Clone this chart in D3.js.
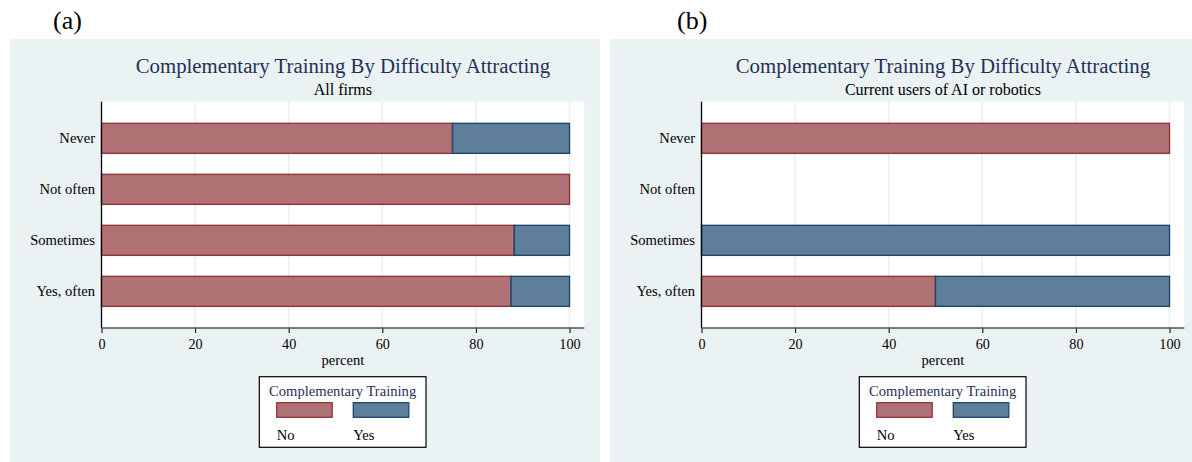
<!DOCTYPE html>
<html>
<head>
<meta charset="utf-8">
<script src="https://cdn.jsdelivr.net/npm/d3@7"></script>
<style>
  html, body { margin: 0; padding: 0; background: #ffffff; }
  svg { display: block; }
  text { font-family: "Liberation Serif", "Times New Roman", serif; }
</style>
</head>
<body>
<svg id="chart" width="1192" height="462"></svg>
<script>
// ---- data ----
const categories = ["Never", "Not often", "Sometimes", "Yes, often"];
const seriesNames = ["No", "Yes"];
const panelLabels = ["(a)", "(b)"];
const chartTitle = "Complementary Training By Difficulty Attracting";
const subtitles = ["All firms", "Current users of AI or robotics"];
const legendTitle = "Complementary Training";
const xAxisTitle = "percent";
const xTicks = [0, 20, 40, 60, 80, 100];
// panel (a): all firms
const noA  = [75, 100, 88.2, 87.5];
const yesA = [25, 0, 11.8, 12.5];
// panel (b): current users of AI or robotics
const noB  = [100, 0, 0, 50];
const yesB = [0, 0, 100, 50];

// ---- styles ----
const bgColor = "#eaf2f3";
const gridColor = "#e6eff1";
const titleColor = "#1f3057";
const fills = ["#b17276", "#5f7e9a"];
const strokes = ["#90353b", "#1a476f"];

const svg = d3.select("#chart");

function drawPanel(left, label, subtitle, noVals, yesVals) {
  const g = svg.append("g").attr("transform", `translate(${left},0)`);
  const panelTop = 39;
  g.append("rect").attr("x", 0).attr("y", panelTop).attr("width", 590).attr("height", 462 - panelTop)
    .attr("fill", bgColor);

  const plotL = 91.5, plotR = 574.3, plotT = 101.7, plotB = 328;
  const x = d3.scaleLinear().domain([0, 100]).range([plotL, 559.5]);
  const y = d3.scaleBand().domain(categories).range([plotT, plotB])
    .paddingInner(0.412).paddingOuter(0.4245);

  // panel label
  g.append("text").attr("x", label === "(a)" ? 43 : 67).attr("y", 29)
    .attr("font-size", 26).attr("fill", "#000").text(label);

  // title + subtitle
  const cx = (plotL + plotR) / 2;
  g.append("text").attr("x", cx).attr("y", 73).attr("text-anchor", "middle")
    .attr("font-size", 20.8).attr("fill", titleColor).text(chartTitle);
  g.append("text").attr("x", cx).attr("y", 95).attr("text-anchor", "middle")
    .attr("font-size", 16).attr("fill", "#000").text(subtitle);

  // plot region
  g.append("rect").attr("x", plotL).attr("y", plotT).attr("width", plotR - plotL).attr("height", plotB - plotT)
    .attr("fill", "#ffffff");

  // grid lines
  g.append("g").selectAll("line").data(xTicks.filter(t => t > 0)).join("line")
    .attr("x1", d => x(d)).attr("x2", d => x(d))
    .attr("y1", plotT).attr("y2", plotB)
    .attr("stroke", gridColor).attr("stroke-width", 1.5);

  // stacked bars
  const rows = categories.map((c, i) => ({ cat: c, No: noVals[i], Yes: yesVals[i] }));
  const stacked = d3.stack().keys(seriesNames)(rows);
  stacked.forEach((layer, si) => {
    g.append("g").selectAll("rect")
      .data(layer.filter(d => d[1] - d[0] > 0))
      .join("rect")
      .attr("x", d => x(d[0]))
      .attr("y", d => y(d.data.cat))
      .attr("width", d => x(d[1]) - x(d[0]))
      .attr("height", y.bandwidth())
      .attr("fill", fills[si])
      .attr("stroke", strokes[si])
      .attr("stroke-width", 1.4);
  });

  // y axis line + labels
  g.append("line").attr("x1", plotL).attr("x2", plotL).attr("y1", plotT).attr("y2", plotB)
    .attr("stroke", "#000").attr("stroke-width", 1.3);
  g.append("g").selectAll("text").data(categories).join("text")
    .attr("x", plotL - 6.5).attr("y", d => y(d) + y.bandwidth() / 2)
    .attr("dy", "0.35em").attr("text-anchor", "end")
    .attr("font-size", 14.6).attr("fill", "#000").text(d => d);

  // x axis
  const xa = g.append("g").attr("transform", `translate(0,${plotB})`)
    .call(d3.axisBottom(x).tickValues(xTicks).tickSize(5).tickPadding(6));
  xa.select(".domain").remove();
  xa.selectAll(".tick line").attr("stroke", "#222").attr("stroke-width", 1.2);
  xa.selectAll(".tick text").attr("font-family", "\"Liberation Serif\", \"Times New Roman\", serif")
    .attr("font-size", 14.2).attr("fill", "#000");
  g.append("line").attr("x1", plotL).attr("x2", plotR).attr("y1", plotB).attr("y2", plotB)
    .attr("stroke", "#555").attr("stroke-width", 1.5);

  g.append("text").attr("x", cx).attr("y", 365).attr("text-anchor", "middle")
    .attr("font-size", 14.6).attr("fill", "#000").text(xAxisTitle);

  // legend
  const lg = g.append("g");
  const lx = 249.3, ly = 376.7, lw = 166.7, lh = 70.6;
  lg.append("rect").attr("x", lx).attr("y", ly).attr("width", lw).attr("height", lh)
    .attr("fill", "#fff").attr("stroke", "#000").attr("stroke-width", 1.2);
  lg.append("text").attr("x", lx + lw / 2).attr("y", 396).attr("text-anchor", "middle")
    .attr("font-size", 14.6).attr("fill", titleColor).text(legendTitle);
  const sw = d3.scaleOrdinal().domain(seriesNames).range([266.7, 343.3]);
  lg.selectAll("rect.sw").data(seriesNames).join("rect").attr("class", "sw")
    .attr("x", d => sw(d)).attr("y", 402.7).attr("width", 55.5).attr("height", 14.6)
    .attr("fill", (d, i) => fills[i]).attr("stroke", (d, i) => strokes[i]).attr("stroke-width", 1.3);
  lg.selectAll("text.lab").data(seriesNames).join("text").attr("class", "lab")
    .attr("x", d => sw(d)).attr("y", 440)
    .attr("font-size", 14.6).attr("fill", "#000").text(d => d);
}

drawPanel(10, panelLabels[0], subtitles[0], noA, yesA);
drawPanel(610, panelLabels[1], subtitles[1], noB, yesB);
</script>
</body>
</html>
